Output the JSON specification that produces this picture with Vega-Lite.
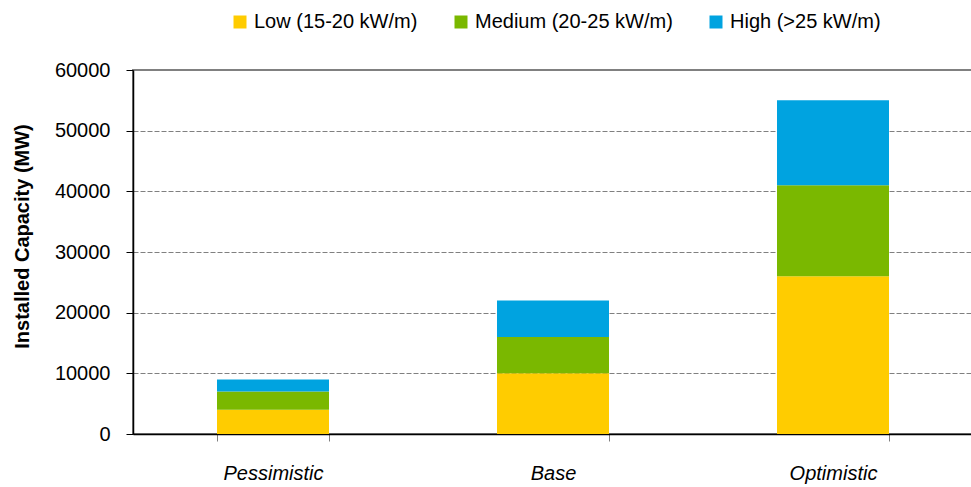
{
  "$schema": "https://vega.github.io/schema/vega-lite/v6.json",
  "autosize": "none",
  "padding": {"left": 133, "top": 70, "right": 0, "bottom": 53},
  "width": 840,
  "height": 364,
  "background": "white",
  "data": {"values": [
    {"scenario": "Pessimistic", "level": "Low (15-20 kW/m)", "ord": 1, "mw": 4000},
    {"scenario": "Pessimistic", "level": "Medium (20-25 kW/m)", "ord": 2, "mw": 3000},
    {"scenario": "Pessimistic", "level": "High (>25 kW/m)", "ord": 3, "mw": 2000},
    {"scenario": "Base", "level": "Low (15-20 kW/m)", "ord": 1, "mw": 10000},
    {"scenario": "Base", "level": "Medium (20-25 kW/m)", "ord": 2, "mw": 6000},
    {"scenario": "Base", "level": "High (>25 kW/m)", "ord": 3, "mw": 6000},
    {"scenario": "Optimistic", "level": "Low (15-20 kW/m)", "ord": 1, "mw": 26000},
    {"scenario": "Optimistic", "level": "Medium (20-25 kW/m)", "ord": 2, "mw": 15000},
    {"scenario": "Optimistic", "level": "High (>25 kW/m)", "ord": 3, "mw": 14000}
  ]},
  "mark": {"type": "bar"},
  "encoding": {
    "x": {
      "field": "scenario", "type": "nominal",
      "sort": ["Pessimistic", "Base", "Optimistic"],
      "scale": {"paddingInner": 0.6, "paddingOuter": 0.3},
      "axis": {
        "title": null, "labelAngle": 0, "labelFontStyle": "italic",
        "labelFontSize": 20, "labelColor": "#000", "labelPadding": 22,
        "domainColor": "#000", "domainWidth": 1.5,
        "tickBand": "extent", "tickColor": "#808080", "tickSize": 7,
        "grid": false
      }
    },
    "y": {
      "field": "mw", "type": "quantitative", "stack": "zero",
      "scale": {"domain": [0, 60000], "nice": false},
      "axis": {
        "title": "Installed Capacity (MW)", "titleFontSize": 20, "titleFontWeight": "bold",
        "titleColor": "#000", "titleX": -101, "titleY": 166,
        "values": [0, 10000, 20000, 30000, 40000, 50000, 60000],
        "format": "d", "labelFontSize": 20, "labelColor": "#000", "labelPadding": 16,
        "domainColor": "#000", "domainWidth": 1.5,
        "tickColor": "#000", "tickSize": 7,
        "grid": true, "gridColor": "#808080", "gridDash": [5, 2], "gridWidth": 1
      }
    },
    "color": {
      "field": "level", "type": "nominal",
      "sort": ["Low (15-20 kW/m)", "Medium (20-25 kW/m)", "High (>25 kW/m)"],
      "scale": {
        "domain": ["Low (15-20 kW/m)", "Medium (20-25 kW/m)", "High (>25 kW/m)"],
        "range": ["#FFCC00", "#7AB800", "#00A3E0"]
      },
      "legend": {
        "title": null, "orient": "none", "direction": "horizontal",
        "legendX": 97, "legendY": -58,
        "symbolType": "square", "symbolSize": 169, "symbolStrokeWidth": 0,
        "labelFontSize": 20, "labelColor": "#000", "labelOffset": 4, "labelLimit": 400,
        "columnPadding": 33
      }
    },
    "order": {"field": "ord", "type": "quantitative"}
  },
  "config": {
    "font": "Liberation Sans, Arial, sans-serif",
    "view": {"stroke": "#808080", "strokeWidth": 2}
  }
}
